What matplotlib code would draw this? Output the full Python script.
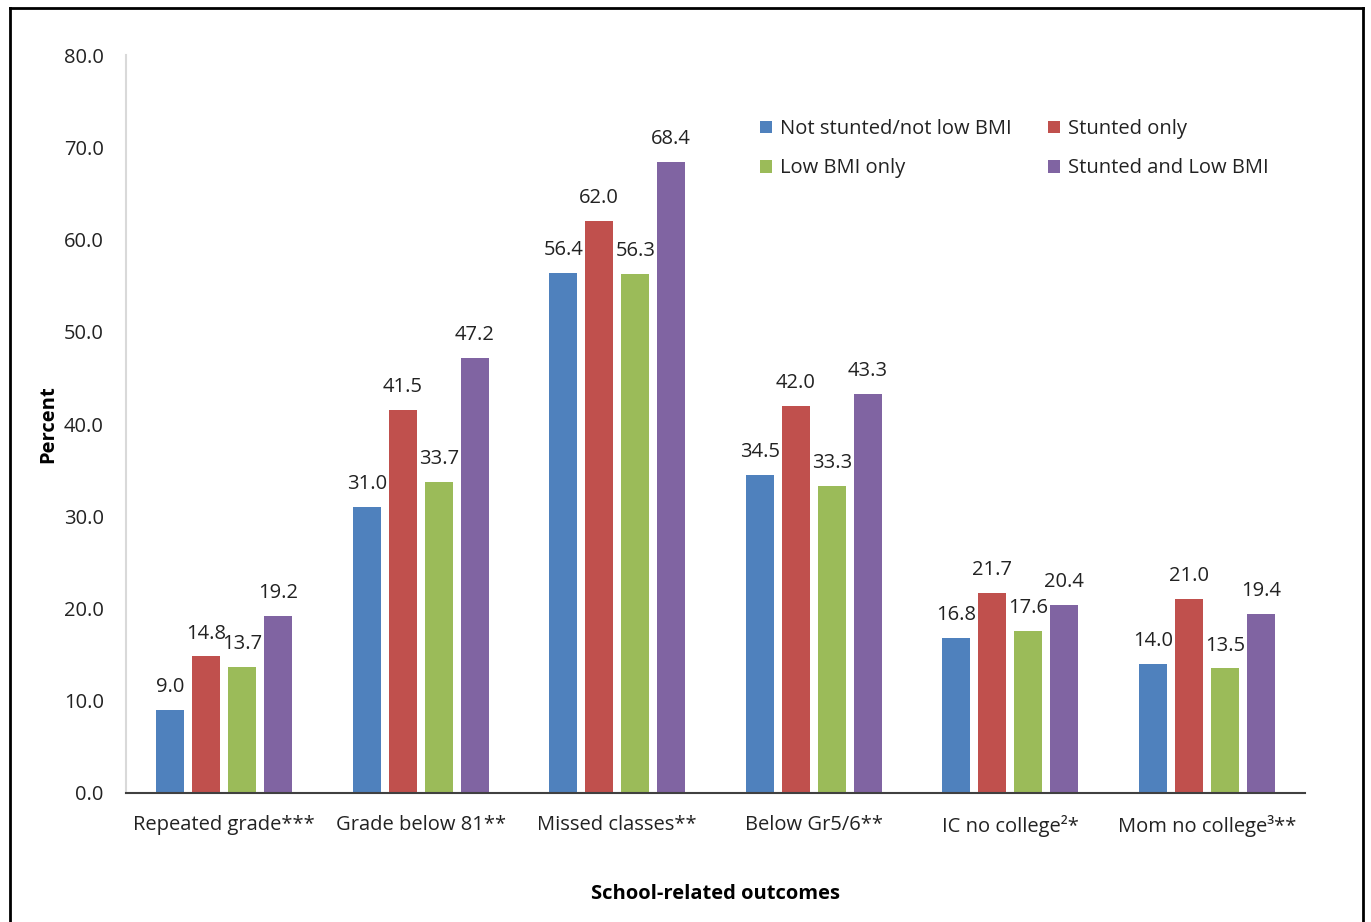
import numpy as np
import matplotlib.pyplot as plt
from matplotlib.lines import Line2D

categories = ['Repeated grade***', 'Grade below 81**', 'Missed classes**',
              'Below Gr5/6**', 'IC no college\u00b2*', 'Mom no college\u00b3**']
series_names = ['Not stunted/not low BMI', 'Stunted only',
                'Low BMI only', 'Stunted and Low BMI']
not_stunted = [9.0, 31.0, 56.4, 34.5, 16.8, 14.0]
stunted_only = [14.8, 41.5, 62.0, 42.0, 21.7, 21.0]
low_bmi_only = [13.7, 33.7, 56.3, 33.3, 17.6, 13.5]
stunted_low_bmi = [19.2, 47.2, 68.4, 43.3, 20.4, 19.4]
y_ticks = [0, 10, 20, 30, 40, 50, 60, 70, 80]

colors = ['#4f81bd', '#c0504d', '#9bbb59', '#8064a2']

plt.rcParams['font.family'] = ['Open Sans', 'DejaVu Sans']
fs = 14.5

fig = plt.figure(figsize=(13.71, 9.22), dpi=100)
ax = fig.add_axes([0.0919, 0.140, 0.860, 0.800])

x = np.arange(len(categories))
bw = 0.143
step = 0.183
offsets = (np.arange(4) - 1.5) * step
all_series = [not_stunted, stunted_only, low_bmi_only, stunted_low_bmi]
handles = []
for i, vals in enumerate(all_series):
    bars = ax.bar(x + offsets[i], vals, bw, color=colors[i], label=series_names[i])
    handles.append(bars)
    for b, v in zip(bars, vals):
        ax.text(b.get_x() + b.get_width() / 2, v + 1.4, '%.1f' % v,
                ha='center', va='bottom', fontsize=fs, color='#222222')

ax.set_xlim(-0.5, len(categories) - 0.5)
ax.set_ylim(0, 80)
ax.set_yticks(y_ticks)
ax.set_yticklabels(['%.1f' % t for t in y_ticks], fontsize=fs, color='#222222')
ax.set_xticks(x)
ax.set_xticklabels(categories, fontsize=fs, color='#222222')
ax.tick_params(axis='both', length=0)
ax.tick_params(axis='y', pad=16)
ax.tick_params(axis='x', pad=16)

for s in ['top', 'right']:
    ax.spines[s].set_visible(False)
ax.spines['left'].set_color('#d9d9d9')
ax.spines['left'].set_linewidth(1.5)
ax.spines['bottom'].set_color('#404040')
ax.spines['bottom'].set_linewidth(1.5)

ax.set_ylabel('Percent', fontsize=fs, fontweight='bold', labelpad=4)
ax.set_xlabel('School-related outcomes', fontsize=fs, fontweight='bold', labelpad=34)

order = [0, 2, 1, 3]
ax.legend([handles[k] for k in order], [series_names[k] for k in order],
          ncol=2, loc='upper left', bbox_to_anchor=(0.522, 0.938), frameon=False,
          fontsize=fs, handlelength=0.6, handleheight=0.6, columnspacing=1.8,
          labelspacing=0.95, handletextpad=0.4, labelcolor='#222222')

# outer frame (left, top, right)
for xs, ys in [([0.0073, 0.0073], [0.0, 0.991]), ([0.0073, 0.9942], [0.991, 0.991]),
               ([0.9942, 0.9942], [0.0, 0.991])]:
    fig.add_artist(Line2D(xs, ys, color='black', linewidth=2, transform=fig.transFigure))

fig.savefig('out.png', dpi=100)
